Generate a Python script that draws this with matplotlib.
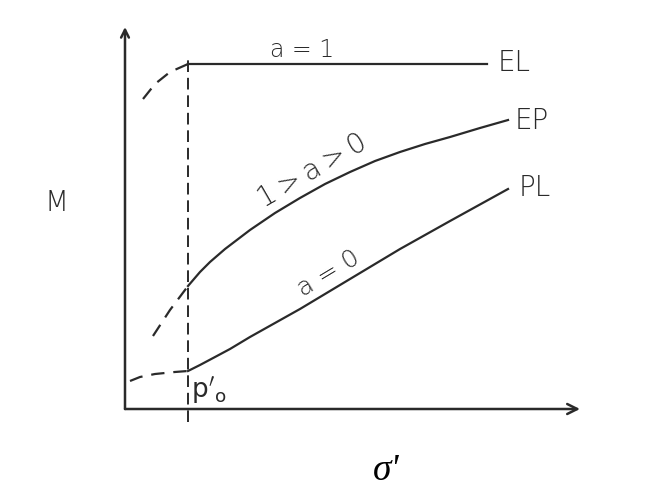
import matplotlib
matplotlib.use('Agg')
import matplotlib.pyplot as plt

# curves (sigma' on x, M on y, arbitrary units 0..10)
el_x = [1.385, 7.956]
el_y = [9.031, 9.031]
el_dash_x = [0.396, 0.659, 0.989, 1.385]
el_dash_y = [8.115, 8.508, 8.822, 9.031]

ep_x = [1.385, 1.648, 1.868, 2.198, 2.747, 3.297, 3.846, 4.396, 4.945, 5.495,
        6.044, 6.593, 7.143, 7.802, 8.418]
ep_y = [3.220, 3.586, 3.848, 4.188, 4.686, 5.131, 5.524, 5.890, 6.204, 6.492,
        6.728, 6.937, 7.120, 7.356, 7.565]
ep_dash_x = [0.615, 0.989, 1.385]
ep_dash_y = [1.911, 2.592, 3.220]

pl_x = [1.385, 1.648, 1.978, 2.308, 2.747, 3.846, 4.945, 6.044, 7.143, 8.418]
pl_y = [0.995, 1.152, 1.361, 1.571, 1.885, 2.618, 3.403, 4.188, 4.921, 5.759]
pl_dash_x = [0.110, 0.330, 0.659, 1.099, 1.385]
pl_dash_y = [0.733, 0.838, 0.916, 0.969, 0.995]

p0 = 1.385  # p'_o on the sigma' axis

fig = plt.figure(figsize=(6.68, 4.89), dpi=100)
ax = fig.add_axes([125 / 668, 79 / 489, 455 / 668, 382 / 489])
ax.set_xlim(0, 10)
ax.set_ylim(0, 10)
ax.axis('off')

ink = '#2a2a2a'
lw = 1.6
dash = (0, (6, 4))

# axes with open arrows
ax.annotate('', xy=(10, 0), xytext=(0, 0), annotation_clip=False,
            arrowprops=dict(arrowstyle='->', color=ink, lw=1.8, mutation_scale=18,
                            shrinkA=0, shrinkB=0))
ax.annotate('', xy=(0, 10), xytext=(0, 0), annotation_clip=False,
            arrowprops=dict(arrowstyle='->', color=ink, lw=1.8, mutation_scale=14,
                            shrinkA=0, shrinkB=0))

# vertical dashed line at p'_o
ax.plot([p0, p0], [-0.34, 9.24], color=ink, lw=1.4, ls=(0, (6, 3)), clip_on=False)

ax.plot(el_x, el_y, color=ink, lw=lw, clip_on=False)
ax.plot(el_dash_x, el_dash_y, color=ink, lw=lw, ls=dash, clip_on=False)
ax.plot(ep_x, ep_y, color=ink, lw=lw, clip_on=False)
ax.plot(ep_dash_x, ep_dash_y, color=ink, lw=lw, ls=dash, clip_on=False)
ax.plot(pl_x, pl_y, color=ink, lw=lw, clip_on=False)
ax.plot(pl_dash_x, pl_dash_y, color=ink, lw=lw, ls=dash, clip_on=False)

txt = dict(color=ink, fontweight='light', family='DejaVu Sans')
ax.text(3.89, 9.42, 'a = 1', fontsize=17, ha='center', va='center', **txt)
ax.text(8.18, 9.08, 'EL', fontsize=20, ha='left', va='center', **txt)
ax.text(8.57, 7.565, 'EP', fontsize=20, ha='left', va='center', **txt)
ax.text(8.66, 5.81, 'PL', fontsize=20, ha='left', va='center', **txt)
ax.text(4.11, 6.26, '1\u2009>\u2009a\u2009>\u20090', fontsize=20, ha='center', va='center',
        rotation=30, rotation_mode='anchor', **txt)
ax.text(4.48, 3.58, 'a = 0', fontsize=18, ha='center', va='center',
        rotation=31, rotation_mode='anchor', **txt)
ax.text(-1.516, 5.42, 'M', fontsize=20, ha='center', va='center', **txt)
ax.text(1.846, 0.52, r"$\mathrm{p}'_{\mathrm{o}}$", fontsize=19, ha='center', va='center',
        color=ink, math_fontfamily='dejavusans')
ax.text(5.75, -1.58, "\u03c3'", fontsize=27, ha='center', va='center',
        color='black', family='Liberation Serif', style='italic')

fig.savefig('out.png', dpi=100)
